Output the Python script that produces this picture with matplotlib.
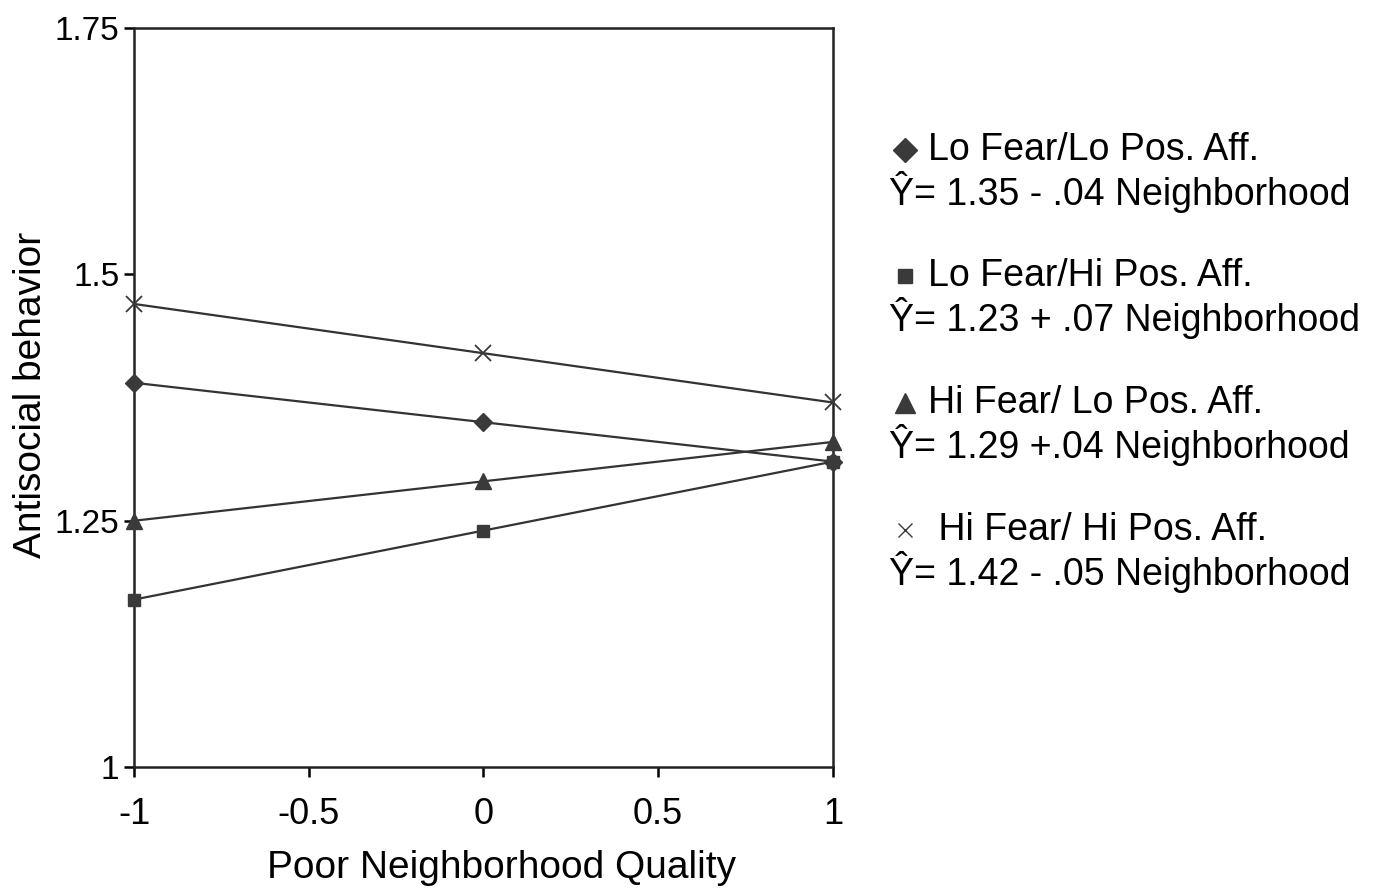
import matplotlib
matplotlib.use("Agg")
import matplotlib.pyplot as plt
from matplotlib.lines import Line2D

plt.rcParams["font.family"] = ["Liberation Sans", "DejaVu Sans"]

# neighborhood quality (centered) and predicted antisocial behavior
x_vals = [-1, 0, 1]
lo_fear_lo_pos = [1.39, 1.35, 1.31]
lo_fear_hi_pos = [1.17, 1.24, 1.31]
hi_fear_lo_pos = [1.25, 1.29, 1.33]
hi_fear_hi_pos = [1.47, 1.42, 1.37]

names = ["Lo Fear/Lo Pos. Aff.", "Lo Fear/Hi Pos. Aff.",
         "Hi Fear/ Lo Pos. Aff.", " Hi Fear/ Hi Pos. Aff."]
equations = ["\u0176= 1.35 - .04 Neighborhood", "\u0176= 1.23 + .07 Neighborhood",
             "\u0176= 1.29 +.04 Neighborhood", "\u0176= 1.42 - .05 Neighborhood"]
y_ticks = [1, 1.25, 1.5, 1.75]
y_tick_labels = ["1", "1.25", "1.5", "1.75"]
x_ticks = [-1, -0.5, 0, 0.5, 1]
x_tick_labels = ["-1", "-0.5", "0", "0.5", "1"]

series = [lo_fear_lo_pos, lo_fear_hi_pos, hi_fear_lo_pos, hi_fear_hi_pos]
markers = ["D", "s", "^", "x"]
msizes = [9, 9, 11, 11]
mcol = "#3a3a3a"
FS = 27

fig = plt.figure(figsize=(13.73, 8.92), dpi=100)
ax = fig.add_axes([0.0976, 0.140, 0.509, 0.8286])

for vals, m, ms in zip(series, markers, msizes):
    ax.plot(x_vals, vals, color="#333333", lw=1.6, marker=m, ms=ms,
            mfc=mcol, mec=mcol, mew=1.3 if m == "x" else 1, clip_on=False, zorder=3)

ax.set_xlim(-1, 1)
ax.set_ylim(1, 1.75)
ax.set_xticks(x_ticks)
ax.set_xticklabels(x_tick_labels)
ax.set_yticks(y_ticks)
ax.set_yticklabels(y_tick_labels)
ax.tick_params(direction="out", length=7.5, width=1.8)
ax.tick_params(axis="x", labelsize=26, pad=14)
ax.tick_params(axis="y", labelsize=24, pad=3)
for s in ax.spines.values():
    s.set_linewidth(1.8)
    s.set_color("#222222")

ax.set_xlabel("Poor Neighborhood Quality", fontsize=28, labelpad=13)
ax.xaxis.label.set_x(0.5265)
ax.set_ylabel("Antisocial behavior", fontsize=28)
ax.yaxis.set_label_coords(-0.1223, 0.503)

# legend built by hand: marker + name, equation on the line below
rows = [150, 276, 403, 530]
leg_ms = [12, 10, 14, 10]
for name, eq, m, ms, y in zip(names, equations, markers, leg_ms, rows):
    fy = 1 - y / 892
    fig.add_artist(Line2D([905 / 1373], [fy], transform=fig.transFigure,
                          marker=m, ms=ms, color=mcol, mfc=mcol, mec=mcol, ls="none"))
    fig.text(928 / 1373, fy, name, fontsize=FS, va="center", ha="left")
    fig.text(889 / 1373, fy - 42 / 892, eq, fontsize=FS, va="center", ha="left")

fig.savefig("out.png", dpi=100)
